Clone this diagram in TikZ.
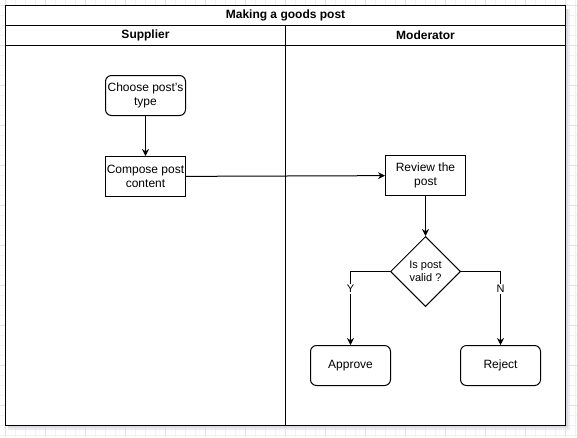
\documentclass[tikz,border=0pt]{standalone}
\usepackage{fontspec}
\setmainfont{Liberation Sans}
\usetikzlibrary{positioning,arrows.meta,shapes.geometric}

\begin{document}
\begin{tikzpicture}[
  x=1pt, y=-1pt,
  gridminor/.style={draw=black!5, line width=0.6pt},
  gridmajor/.style={draw=black!11, line width=0.6pt},
  lane/.style={draw, line width=1pt},
  head/.style={font=\fontsize{12}{14}\selectfont\bfseries},
  rbox/.style={draw, line width=1pt, rounded corners=6pt, minimum width=80pt, minimum height=40pt, inner sep=1pt, align=center, font=\fontsize{12}{14}\selectfont},
  pbox/.style={rbox, rounded corners=0pt},
  dec/.style={draw, line width=1pt, diamond, aspect=1, minimum size=70pt, inner sep=0pt, align=center, font=\fontsize{11}{13}\selectfont},
  arr/.style={-{Stealth[length=7pt,width=7pt]}, line width=1pt},
  yn/.style={fill=white, inner sep=1pt, font=\fontsize{11}{13}\selectfont},
]
\useasboundingbox (-5.5,-5.5) rectangle (571.5,431.5);
% canvas grid
\foreach \g in {0,10,...,570} \draw[gridminor] (\g,-5.5) -- (\g,431.5);
\foreach \g in {0,10,...,430} \draw[gridminor] (-5.5,\g) -- (571.5,\g);
\foreach \g in {0,40,...,560} \draw[gridmajor] (\g,-5.5) -- (\g,431.5);
\foreach \g in {0,40,...,400} \draw[gridmajor] (-5.5,\g) -- (571.5,\g);
% pool with shadow
\fill[blue!20!black!12, opacity=0.6] (3,3) rectangle (564,424);
\fill[blue!20!black!18, opacity=0.6] (3,3) rectangle (562,422);
\fill[white] (0,0) rectangle (560,420);
\draw[lane] (0,0) rectangle (560,420);
\draw[lane] (0,20) -- (560,20);
\draw[lane] (0,40) -- (560,40);
\draw[lane] (280,20) -- (280,420);
\node[head] (title) at (280,10) {Making a goods post};
\node[head] (supplier) at (140,30) {Supplier};
\node[head] (moderator) at (420,30) {Moderator};

% supplier lane
\node[rbox] (choose) at (140,90) {Choose post's\\type};
\node[pbox, below=40pt of choose] (compose) {Compose post\\content};
% moderator lane
\node[pbox] (review) at (420,170) {Review the\\post};
\node[dec, below=40pt of review] (valid) {Is post\\valid ?};
\node[rbox] (approve) at (345,360) {Approve};
\node[rbox] (reject) at (495,360) {Reject};

\draw[arr] (choose) -- (compose);
\draw[arr] (compose) -- (review);
\draw[arr] (review) -- (valid);
\draw[arr] (valid.west) -| node[yn, pos=0.62] {Y} (approve);
\draw[arr] (valid.east) -| node[yn, pos=0.62] {N} (reject);
\end{tikzpicture}
\end{document}
